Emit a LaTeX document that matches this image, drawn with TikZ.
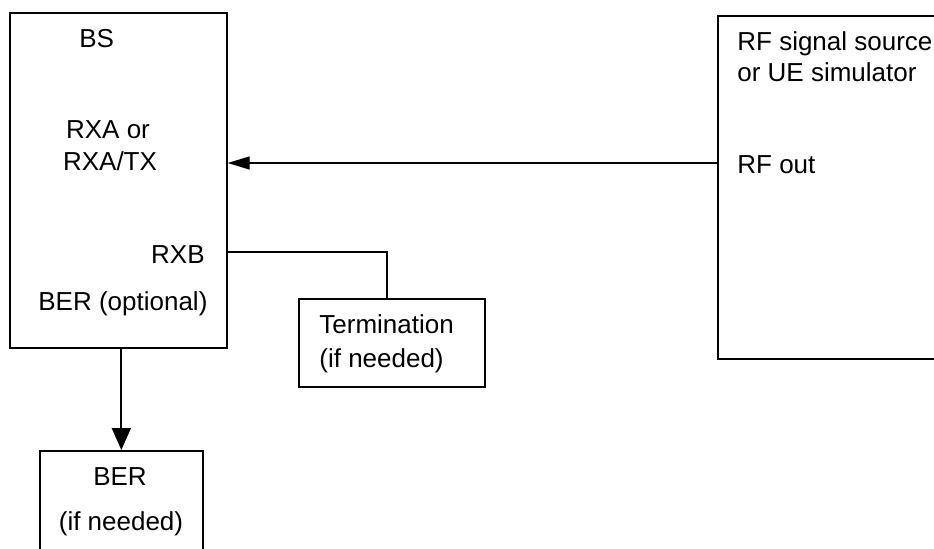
\documentclass[tikz,border=0pt]{standalone}
\usepackage{fontspec}
\setmainfont{Liberation Sans}
\usepackage{tikz}
\usetikzlibrary{arrows.meta}
\usetikzlibrary{positioning}
\usetikzlibrary{calc}
\tikzstyle{box} = [draw = black, line width = 0.85pt, inner sep = 0pt, anchor = north west]
\tikzstyle{lbl} = [inner sep = 0pt, font = \fontsize{13pt}{15pt}\selectfont]
\tikzstyle{feed} = [line width = 0.7pt, -{Triangle[length = 11pt, width = 6.5pt]}]
\tikzstyle{berfeed} = [line width = 0.9pt, -{Triangle[length = 11pt, width = 9.5pt]}]
\tikzstyle{termline} = [line width = 1.3pt]

\begin{document}
\begin{tikzpicture}[x = 0.5pt, y = -0.5pt]
		\useasboundingbox (0, 0) rectangle (934, 548);
		% Блоки
		\node[box, minimum width = 108.5pt, minimum height = 167.5pt] (bs) at (9, 12) {};
		\node[box, minimum width = 141.5pt, minimum height = 171.5pt] (rf) at (717, 15) {};
		\node[box, minimum width = 93pt, minimum height = 44pt] (term) at (298, 298) {};
		\node[box, minimum width = 81.5pt, minimum height = 75pt] (ber) at (39, 450) {};
		% Надписи
		\node[lbl, anchor = base west] (bsname) at (79, 47) {BS};
		\node[lbl, anchor = base] (rxa) at (108, 138) {RXA or};
		\node[lbl, anchor = base] (rxatx) at (110, 170) {RXA/TX};
		\node[lbl, anchor = base east] (rxb) at (205, 263) {RXB};
		\node[lbl, anchor = base west] (beropt) at (38, 310) {BER (optional)};
		\node[lbl, anchor = base west] (rfname) at (737, 50) {RF signal source};
		\node[lbl, anchor = base west] (rfsim) at (737, 81) {or UE simulator};
		\node[lbl, anchor = base west] (rfout) at (737, 173) {RF out};
		\node[lbl, anchor = base west] (termname) at (319, 333) {Termination};
		\node[lbl, anchor = base west] (termneed) at (319, 367) {(if needed)};
		\node[lbl, anchor = base] (bername) at (120, 485) {BER};
		\node[lbl, anchor = base] (berneed) at (121, 530) {(if needed)};
		% Соединения
		\coordinate (rfport) at (717, 163);
		\coordinate (rxbport) at (226, 252);
		\draw[feed] (rfport) -- (rfport -| bs.east);
		\draw[termline] (rxbport) -| ([xshift = -2.5pt] term.north);
		\draw[berfeed] (bs.south -| ber.north) -- (ber.north);
	\end{tikzpicture}
\end{document}
